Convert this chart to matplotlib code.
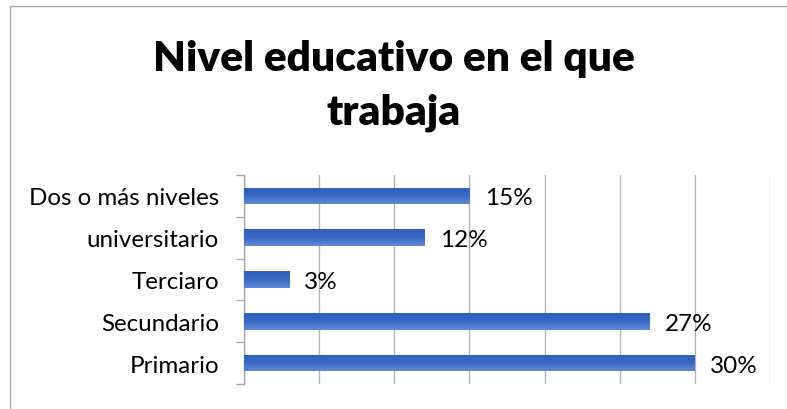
import matplotlib
matplotlib.use("Agg")
import matplotlib.pyplot as plt
import numpy as np
from matplotlib.patches import Rectangle
from matplotlib.colors import LinearSegmentedColormap

# Data
categories = ["Primario", "Secundario", "Terciaro", "universitario", "Dos o más niveles"]
values = [30, 27, 3, 12, 15]
value_labels = ["30%", "27%", "3%", "12%", "15%"]

FONT = "Lato"

W, H = 787, 410
fig = plt.figure(figsize=(W / 100, H / 100), dpi=100)
fig.patch.set_facecolor("white")

# Chart area border (extends past the right and bottom edges)
fig.add_artist(Rectangle((9.5 / W, -0.05), 1.05, 1 - 6.5 / H + 0.05,
                         transform=fig.transFigure, fill=False,
                         edgecolor="#a6a6a6", linewidth=1.0))

ax = fig.add_axes([244 / W, 1 - 385 / H, (770 - 244) / W, (385 - 176) / H])
ax.set_facecolor("white")

y = np.arange(len(categories))
bar_h = 0.4
bars = ax.barh(y, values, height=bar_h, color="#4472c4", edgecolor="none", zorder=3)

# Vertical gradient fill for each bar
grad_cmap = LinearSegmentedColormap.from_list("barfill", ["#6088d6", "#3a68c2", "#2f5fbd"])
grad = np.linspace(0, 1, 64).reshape(-1, 1)
for b in bars:
    x0, y0 = b.get_x(), b.get_y()
    w, h = b.get_width(), b.get_height()
    im = ax.imshow(grad, extent=[x0, x0 + w, y0 + h, y0], aspect="auto",
                   cmap=grad_cmap, origin="upper", zorder=4, interpolation="bilinear")
    im.set_clip_path(b)

for yi, v, lab in zip(y, values, value_labels):
    ax.annotate(lab, (v, yi), xytext=(11, -1.5), textcoords="offset points",
                ha="left", va="center", fontsize=17.5, family=FONT, color="black")

ax.set_xlim(0, 35)
ax.set_ylim(-0.5, len(categories) - 0.5)
ax.set_xticks(np.arange(0, 36, 5))
ax.set_xticklabels([])
ax.tick_params(axis="x", length=0)
ax.grid(axis="x", color="#b3b3b3", linewidth=1.0, zorder=0)

ax.set_yticks(y)
ax.set_yticklabels(categories, family=FONT, fontsize=17.4)
ax.tick_params(axis="y", which="major", length=0, pad=18)
ax.set_yticks(np.arange(-0.5, len(categories)), minor=True)
ax.tick_params(axis="y", which="minor", length=6, width=1.0, color="#a6a6a6", direction="out")

for s in ["top", "right", "bottom"]:
    ax.spines[s].set_visible(False)
ax.spines["left"].set_color("#a6a6a6")
ax.spines["left"].set_linewidth(1.0)

fig.text(0.5, 1 - 71.5 / H, "Nivel educativo en el que", ha="center", va="baseline",
         fontsize=30.5, fontweight="heavy", family=FONT)
fig.text(0.5, 1 - 125 / H, "trabaja", ha="center", va="baseline",
         fontsize=30.5, fontweight="heavy", family=FONT)

fig.savefig("out.png", dpi=100, facecolor="white")
